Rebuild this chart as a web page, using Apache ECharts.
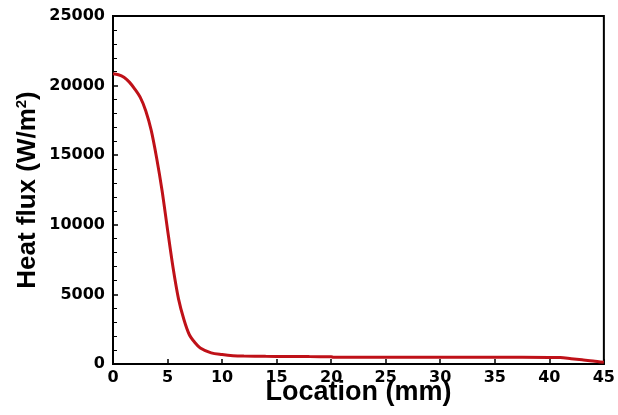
<!DOCTYPE html>
<html><head><meta charset="utf-8">
<script src="https://cdn.jsdelivr.net/npm/echarts@6/dist/echarts.min.js"></script>
<style>html,body{margin:0;padding:0;background:#fff}#c{width:618px;height:415px}</style>
</head><body><div id="c"></div>
<script>
const location_mm = [0,0.5,1,1.5,2,2.5,3,3.5,4,4.5,5,5.5,6,6.5,7,7.5,8,9,10,11,12,14,16,18,20,20.2,25,30,35,40,41,42,43,44,45];
const heatFlux = [20850,20780,20600,20250,19750,19150,18200,16800,14800,12450,9650,6950,4700,3200,2100,1550,1150,800,680,600,570,550,540,530,525,480,480,480,480,475,460,380,300,220,120];
const xTicks = [0,5,10,15,20,25,30,35,40,45];
const yTicks = [0,5000,10000,15000,20000,25000];

const FONT = 'DejaVu Sans';
const NAMEFONT = 'Liberation Sans';
const chart = echarts.init(document.getElementById('c'), null, {renderer:'canvas'});
chart.setOption({
  animation:false,
  grid:{left:113,right:14,top:16,bottom:51,show:true,borderColor:'#000',borderWidth:2,backgroundColor:'transparent'},
  xAxis:{type:'value',min:xTicks[0],max:xTicks[xTicks.length-1],interval:5,
    name:'Location (mm)',nameLocation:'middle',nameGap:15,nameMoveOverlap:false,
    nameTextStyle:{fontFamily:NAMEFONT,fontWeight:'bold',fontSize:27,color:'#000',verticalAlign:'top'},
    axisLine:{show:true,lineStyle:{color:'#000',width:2}},
    axisTick:{show:true,inside:true,length:5,lineStyle:{color:'#000',width:1.5}},
    axisLabel:{fontFamily:FONT,fontWeight:'bold',fontSize:16,color:'#000',margin:6,formatter:v=>String(v)},
    splitLine:{show:false}},
  yAxis:{type:'value',min:yTicks[0],max:yTicks[yTicks.length-1],interval:5000,
    name:'{a|Heat flux (W/m}{s|2}{a|)}',nameLocation:'middle',nameGap:72,nameRotate:90,nameMoveOverlap:false,
    nameTextStyle:{rich:{a:{fontFamily:NAMEFONT,fontWeight:'bold',fontSize:26,color:'#000'},
                         s:{fontFamily:NAMEFONT,fontWeight:'bold',fontSize:15,color:'#000',verticalAlign:'top',padding:[0,0,12,0]}}},
    axisLine:{show:true,lineStyle:{color:'#000',width:2}},
    axisTick:{show:true,inside:true,length:5,lineStyle:{color:'#000',width:1.5}},
    minorTick:{show:true,splitNumber:5,length:4,lineStyle:{color:'#000',width:1}},
    axisLabel:{fontFamily:FONT,fontWeight:'bold',fontSize:16,color:'#000',margin:8,formatter:v=>String(v)},
    splitLine:{show:false}},
  series:[{type:'line',data:location_mm.map((x,i)=>[x,heatFlux[i]]),smooth:0.3,showSymbol:false,
    lineStyle:{color:'#bf1118',width:3}}]
});
</script></body></html>
